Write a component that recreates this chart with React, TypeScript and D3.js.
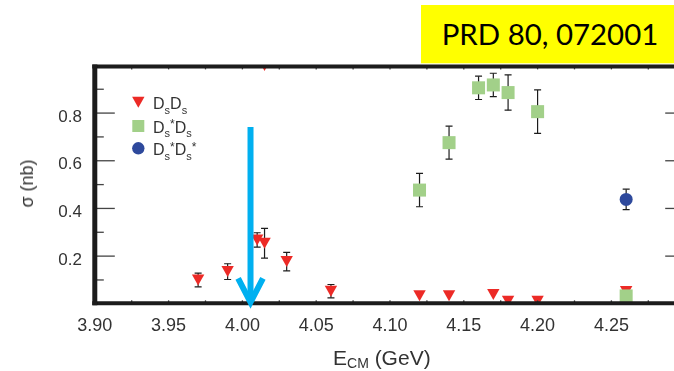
import React from "react";
import * as d3 from "d3";

// Cross sections (nb) vs. centre-of-mass energy (GeV)
const dsdsEnergy = [3.97, 3.99, 4.01, 4.015, 4.03, 4.06, 4.12, 4.14, 4.17, 4.18, 4.2, 4.26, 4.015];
const dsdsSigma = [0.1, 0.135, 0.268, 0.254, 0.177, 0.053, 0.034, 0.034, 0.039, 0.011, 0.011, 0.052, 1.0];
const dsdsError = [0.029, 0.033, 0.03, 0.062, 0.039, 0.028, 0, 0, 0, 0, 0, 0, 0];

const dsStarDsEnergy = [4.12, 4.14, 4.16, 4.17, 4.18, 4.2, 4.26];
const dsStarDsSigma = [0.477, 0.676, 0.906, 0.918, 0.886, 0.806, 0.033];
const dsStarDsError = [0.07, 0.069, 0.049, 0.049, 0.074, 0.091, 0];

const dsStarDsStarEnergy = [4.26];
const dsStarDsStarSigma = [0.438];
const dsStarDsStarError = [0.043];

const xTickLabels = ["3.90", "3.95", "4.00", "4.05", "4.10", "4.15", "4.20", "4.25"];
const yTickLabels = ["0.2", "0.4", "0.6", "0.8"];
const arrowEnergy = 4.0055;
const arrowTop = 0.742;

const W = 674;
const H = 371;

const RED = "#ec2b27";
const GREEN = "#a2d089";
const BLUE = "#2f4a9c";
const CYAN = "#00b0f0";
const INK = "#333";

const x = d3.scaleLinear().domain([3.9, 4.3]).range([94.8, 685.2]);
const y = d3.scaleLinear().domain([0, 1]).range([303.8, 65.4]);

type Pt = { e: number; s: number; err: number };
const zip = (e: number[], s: number[], err: number[]): Pt[] =>
  e.map((v, i) => ({ e: v, s: s[i], err: err[i] }));

const dsds = zip(dsdsEnergy, dsdsSigma, dsdsError);
const dsStarDs = zip(dsStarDsEnergy, dsStarDsSigma, dsStarDsError);
const dsStarDsStar = zip(dsStarDsStarEnergy, dsStarDsStarSigma, dsStarDsStarError);

const FONT = "'Liberation Sans', Arial, Helvetica, sans-serif";

const triPath = "M-6.2,-5.5L6.2,-5.5L0,5.5Z";

function ErrorBars({ pts }: { pts: Pt[] }) {
  return (
    <g stroke="#1e1e1e" strokeWidth={1.2} fill="none">
      {pts
        .filter((p) => p.err > 0)
        .map((p, i) => {
          const cx = x(p.e);
          const y1 = y(p.s + p.err);
          const y2 = y(p.s - p.err);
          return (
            <g key={i}>
              <line x1={cx} x2={cx} y1={y1} y2={y2} />
              <line x1={cx - 3.5} x2={cx + 3.5} y1={y1} y2={y1} />
              <line x1={cx - 3.5} x2={cx + 3.5} y1={y2} y2={y2} />
            </g>
          );
        })}
    </g>
  );
}

export default function App() {
  const xTicksMinor = d3.range(0, 17).map((i) => 3.9 + i * 0.025);
  const yTicksAll = d3.range(1, 10).map((i) => i / 10);
  const xMajor = xTickLabels.map((t) => +t);
  const yMajor = yTickLabels.map((t) => +t);
  const [x0, x1] = x.range();
  const [yb, yt] = y.range();

  const legendX = 138.3;
  const legendTextX = 153;
  const legendRows = [102.3, 126, 148.3];

  return (
    <svg
      width={W}
      height={H}
      style={{ position: "absolute", left: 0, top: 0, background: "#fff" }}
      fontFamily={FONT}
    >
      <defs>
        <clipPath id="plotArea">
          <rect x={x0} y={yt} width={x1 - x0} height={yb - yt} />
        </clipPath>
        <filter id="soft" x="-5%" y="-5%" width="110%" height="110%">
          <feGaussianBlur stdDeviation={0.35} />
        </filter>
      </defs>

      <g filter="url(#soft)">
        {/* data */}
        <g clipPath="url(#plotArea)">
          <ErrorBars pts={dsds} />
          <ErrorBars pts={dsStarDs} />
          <ErrorBars pts={dsStarDsStar} />
          {dsds.map((p, i) => (
            <path key={"r" + i} d={triPath} transform={`translate(${x(p.e)},${y(p.s)})`} fill={RED} />
          ))}
          {dsStarDs.map((p, i) => (
            <rect key={"g" + i} x={x(p.e) - 6.5} y={y(p.s) - 6.5} width={13} height={13} fill={GREEN} />
          ))}
          {dsStarDsStar.map((p, i) => (
            <circle key={"b" + i} cx={x(p.e)} cy={y(p.s)} r={6.5} fill={BLUE} />
          ))}
        </g>

        {/* ticks */}
        <g stroke="#444" strokeWidth={1.3}>
          {xTicksMinor.slice(1).map((t, i) => (
            <g key={"xt" + i}>
              <line x1={x(t)} x2={x(t)} y1={yt} y2={yt + 4} />
              <line x1={x(t)} x2={x(t)} y1={yb} y2={yb - 3.5} />
            </g>
          ))}
          {yTicksAll.map((t, i) => {
            const major = yMajor.some((m) => Math.abs(m - t) < 1e-9);
            const len = major ? 20 : 9;
            return (
              <g key={"yt" + i}>
                <line x1={x0} x2={x0 + len} y1={y(t)} y2={y(t)} />
                <line x1={x1} x2={x1 - len} y1={y(t)} y2={y(t)} />
              </g>
            );
          })}
        </g>

        {/* frame */}
        <g stroke="#1a1a1a" fill="none">
          <line x1={x0 - 2.5} x2={x1} y1={yt + 1} y2={yt + 1} strokeWidth={4} />
          <line x1={x0 - 2.5} x2={x1} y1={yb - 0.5} y2={yb - 0.5} strokeWidth={4} />
          <line x1={x0} x2={x0} y1={yt - 1} y2={yb + 1.5} strokeWidth={5} />
        </g>

        {/* tick labels */}
        <g fill={INK} fontSize={18}>
          {xMajor.map((t, i) => (
            <text key={"xl" + i} x={x(t)} y={330.7} textAnchor="middle">
              {xTickLabels[i]}
            </text>
          ))}
        </g>
        <g fill={INK} fontSize={17}>
          {yMajor.map((t, i) => (
            <text key={"yl" + i} x={82} y={y(t) + 8.5} textAnchor="end">
              {yTickLabels[i]}
            </text>
          ))}
        </g>

        {/* axis titles */}
        <text x={333} y={364.8} fill={INK} fontSize={21}>
          <tspan>E</tspan>
          <tspan fontSize={14} dy={3.2}>CM</tspan>
          <tspan dy={-3.2}> (GeV)</tspan>
        </text>
        <text transform="translate(33,183.5) rotate(-90)" fill={INK} fontSize={18} textAnchor="middle">
          σ (nb)
        </text>

        {/* legend */}
        <path d={triPath} transform={`translate(${legendX},${legendRows[0]})`} fill={RED} />
        <rect x={legendX - 6} y={legendRows[1] - 6} width={12} height={12} fill={GREEN} />
        <circle cx={legendX} cy={legendRows[2]} r={6.2} fill={BLUE} />
        <g fill={INK} fontSize={16}>
          <text x={legendTextX} y={legendRows[0] + 6.7}>
            <tspan>D</tspan>
            <tspan fontSize={11} dy={4.5}>s</tspan>
            <tspan dy={-4.5}>D</tspan>
            <tspan fontSize={11} dy={4.5}>s</tspan>
          </text>
          <text x={legendTextX} y={legendRows[1] + 6.7}>
            <tspan>D</tspan>
            <tspan fontSize={11} dy={4.5}>s</tspan>
            <tspan fontSize={12} dy={-9}>*</tspan>
            <tspan dy={4.5}>D</tspan>
            <tspan fontSize={11} dy={4.5}>s</tspan>
          </text>
          <text x={legendTextX} y={legendRows[2] + 6.7}>
            <tspan>D</tspan>
            <tspan fontSize={11} dy={4.5}>s</tspan>
            <tspan fontSize={12} dy={-9}>*</tspan>
            <tspan dy={4.5}>D</tspan>
            <tspan fontSize={11} dy={4.5}>s</tspan>
            <tspan fontSize={12} dy={-9}>*</tspan>
          </text>
        </g>
      </g>

      {/* threshold arrow */}
      <g stroke={CYAN} strokeWidth={6} fill="none">
        <line x1={x(arrowEnergy)} x2={x(arrowEnergy)} y1={y(arrowTop)} y2={y(0) - 3} />
        <polyline
          points={`${x(arrowEnergy) - 12.4},${y(0) - 25.5} ${x(arrowEnergy)},${y(0) - 1.5} ${x(arrowEnergy) + 12.4},${y(0) - 25.5}`}
          strokeLinejoin="miter"
        />
      </g>

      {/* reference tag */}
      <rect x={421} y={5} width={W - 421} height={58.3} fill="#ffff00" />
      <text
        x={441.7}
        y={45}
        fontFamily="Lato, 'Open Sans', sans-serif"
        fontSize={29}
        fill="#000"
        textLength={216.6}
        lengthAdjust="spacingAndGlyphs"
      >
        PRD 80, 072001
      </text>
    </svg>
  );
}
